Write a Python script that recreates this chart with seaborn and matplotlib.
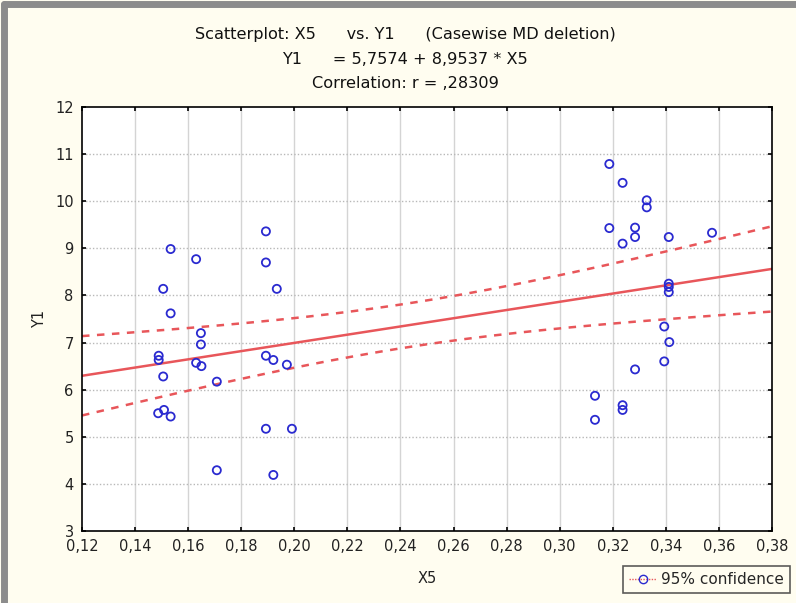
import numpy as np
import pandas as pd
import matplotlib
matplotlib.use("Agg")
import matplotlib.pyplot as plt
import seaborn as sns
from matplotlib.lines import Line2D

x5 = [0.1534, 0.1630, 0.1506, 0.1534, 0.1648, 0.1648, 0.1489, 0.1489, 0.1630, 0.1650,
      0.1506, 0.1708, 0.1487, 0.1509, 0.1534, 0.1708, 0.1893, 0.1893, 0.1934, 0.1893,
      0.1921, 0.1972, 0.1893, 0.1991, 0.1921,
      0.3187, 0.3237, 0.3328, 0.3328, 0.3187, 0.3284, 0.3284, 0.3237, 0.3411, 0.3574,
      0.3411, 0.3411, 0.3411, 0.3394, 0.3413, 0.3394, 0.3284, 0.3133, 0.3237, 0.3237, 0.3133]
y1 = [8.985, 8.77, 8.14, 7.62, 7.20, 6.96, 6.72, 6.63, 6.57, 6.50,
      6.28, 6.17, 5.50, 5.57, 5.43, 4.29, 9.36, 8.70, 8.14, 6.72,
      6.63, 6.53, 5.17, 5.17, 4.19,
      10.79, 10.39, 10.02, 9.87, 9.43, 9.44, 9.24, 9.10, 9.24, 9.33,
      8.25, 8.18, 8.07, 7.34, 7.01, 6.60, 6.43, 5.87, 5.67, 5.57, 5.36]

x_ticks = [0.12, 0.14, 0.16, 0.18, 0.20, 0.22, 0.24, 0.26, 0.28, 0.30, 0.32, 0.34, 0.36, 0.38]
x_labels = ["0,12", "0,14", "0,16", "0,18", "0,20", "0,22", "0,24", "0,26", "0,28", "0,30",
            "0,32", "0,34", "0,36", "0,38"]
y_ticks = [3, 4, 5, 6, 7, 8, 9, 10, 11, 12]

title_lines = ["Scatterplot: X5      vs. Y1      (Casewise MD deletion)",
               "Y1      = 5,7574 + 8,9537 * X5",
               "Correlation: r = ,28309"]

df = pd.DataFrame({"X5": x5, "Y1": y1})

sns.set_style("white")
plt.rcParams['font.family'] = ['DejaVu Sans']

W, H = 796, 603
fig = plt.figure(figsize=(W / 100, H / 100), dpi=100)
bg = "#fffdf0"
fig.patch.set_facecolor(bg)
ax = fig.add_axes([82 / W, 1 - 531 / H, (772 - 82) / W, (531 - 107) / H])
ax.set_facecolor("white")

ax.set_xlim(0.12, 0.38)
ax.set_ylim(3, 12)
ax.set_xticks(x_ticks)
ax.set_xticklabels(x_labels)
ax.set_yticks(y_ticks)

# grid: vertical solid light, horizontal dotted
for xv in x_ticks[1:-1]:
    ax.axvline(xv, color="#d4d4d4", lw=1.0, zorder=0)
for yv in y_ticks[1:-1]:
    ax.axhline(yv, color="#b8b8b8", lw=1.0, ls=(0, (1, 1.5)), zorder=0)

# regression and 95% confidence bands computed from data
xa = np.array(x5)
ya = np.array(y1)
n = len(xa)
b, a = np.polyfit(xa, ya, 1)
xm = xa.mean()
resid = ya - (a + b * xa)
s = np.sqrt((resid ** 2).sum() / (n - 2))
sxx = ((xa - xm) ** 2).sum()
t = 2.0167
xx = np.linspace(0.12, 0.38, 200)
yy = a + b * xx
se = s * np.sqrt(1 / n + (xx - xm) ** 2 / sxx)
red = "#e8565a"
ax.plot(xx, yy, color=red, lw=1.8, zorder=2)
ax.plot(xx, yy + t * se, color=red, lw=1.8, ls=(0, (3, 3)), zorder=2)
ax.plot(xx, yy - t * se, color=red, lw=1.8, ls=(0, (3, 3)), zorder=2)

sns.scatterplot(data=df, x="X5", y="Y1", ax=ax, marker="o", s=34,
                facecolors="none", edgecolor="#2a2ad0", linewidth=1.3, zorder=3,
                legend=False)

ax.set_xlim(0.12, 0.38)
ax.set_ylim(3, 12)
for sp in ax.spines.values():
    sp.set_visible(True)
    sp.set_color("black")
    sp.set_linewidth(1.2)

ax.tick_params(axis="both", which="both", direction="in", length=3, width=1.2,
               top=True, right=True, bottom=True, left=True, labelsize=10.5,
               colors="black", labelcolor="#222222", pad=6)
ax.set_xlabel("X5", fontsize=10.5, color="#222222", labelpad=12)
ax.set_ylabel("Y1", fontsize=10.5, color="#222222", labelpad=6)

# title lines
for i, line in enumerate(title_lines):
    fig.text(405 / W, 1 - (35 + i * 24) / H, line, ha="center", va="center",
             fontsize=11.6, color="#111111")

# legend
handle = Line2D([0], [0], color=red, lw=1.0, ls=(0, (1, 1)), marker="o",
                markerfacecolor="none", markeredgecolor="#2a2ad0", markersize=6)
leg = fig.legend([handle], ["95% confidence"], loc="lower right",
                 bbox_to_anchor=(790 / W, 1 - 593 / H), fontsize=11,
                 frameon=True, fancybox=False, handlelength=1.8,
                 handletextpad=0.3, borderpad=0.4, borderaxespad=0)
leg.get_frame().set_edgecolor("#333333")
leg.get_frame().set_linewidth(1.2)
leg.get_frame().set_facecolor(bg)

# figure border (left and top)
fig.add_artist(Line2D([4 / W, 4 / W], [0, 1 - 4 / H], transform=fig.transFigure,
                      color="#8c8c8c", lw=5))
fig.add_artist(Line2D([4 / W, 1], [1 - 4 / H, 1 - 4 / H], transform=fig.transFigure,
                      color="#8c8c8c", lw=5))

fig.savefig("out.png", dpi=100, facecolor=bg)
